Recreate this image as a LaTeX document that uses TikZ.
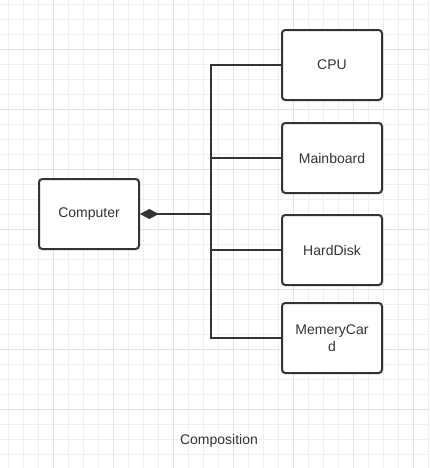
\documentclass[tikz,border=0pt]{standalone}
\usepackage{fontspec}
\setmainfont{Liberation Sans}
\usepackage{tikz}
\usepackage{xcolor}
\usetikzlibrary{
    arrows.meta,
    calc,
    positioning
}
\definecolor{ink}{HTML}{333333}
\definecolor{gridminor}{HTML}{EFEFEF}
\definecolor{gridmajor}{HTML}{E2E2E2}
\tikzset{
    part/.style={draw=ink, line width=1.5pt, rounded corners=2.5pt, fill=white,
        minimum width=75pt, minimum height=52.5pt, align=center, text=ink,
        font=\fontsize{10.5pt}{12.5pt}\selectfont},
    link/.style={draw=ink, line width=1.5pt},
    whole/.style={link, {Diamond[length=14pt, width=7.5pt, fill=ink]}-}
}

\begin{document}
\begin{tikzpicture}[x=0.75pt, y=-0.75pt]
                            \useasboundingbox (0, 0) rectangle (429, 468);
                            \fill[white] (0, 0) rectangle (429, 468);
                            \foreach \gx in {8, 23, ..., 428}
                                \draw[gridminor, line width=0.75pt] (\gx, 0) -- (\gx, 468);
                            \foreach \gy in {4, 19, ..., 464}
                                \draw[gridminor, line width=0.75pt] (0, \gy) -- (429, \gy);
                            \foreach \gx in {53, 113, ..., 413}
                                \draw[gridmajor, line width=0.75pt] (\gx, 0) -- (\gx, 468);
                            \foreach \gy in {49, 109, ..., 409}
                                \draw[gridmajor, line width=0.75pt] (0, \gy) -- (429, \gy);
                            \node[part] (computer) at (89, 214) {Computer};
                            \node[part] (cpu) at (332, 65) {CPU};
                            \node[part] (board) at (332, 158) {Mainboard};
                            \node[part] (disk) at (332, 250) {HardDisk};
                            \node[part] (card) at (332, 338) {MemeryCar\\d};
                            \node[text=ink, font=\fontsize{10.5pt}{12.5pt}\selectfont] (title) at (219, 441) {Composition};
                            \coordinate (bus) at (211, 214);
                            \draw[whole] (computer.east) -- (bus);
                            \draw[link]
                            (bus) |- (cpu.west)
                            (bus) |- (board.west)
                            (bus) |- (disk.west)
                            (bus) |- (card.west);
                        \end{tikzpicture}
\end{document}
